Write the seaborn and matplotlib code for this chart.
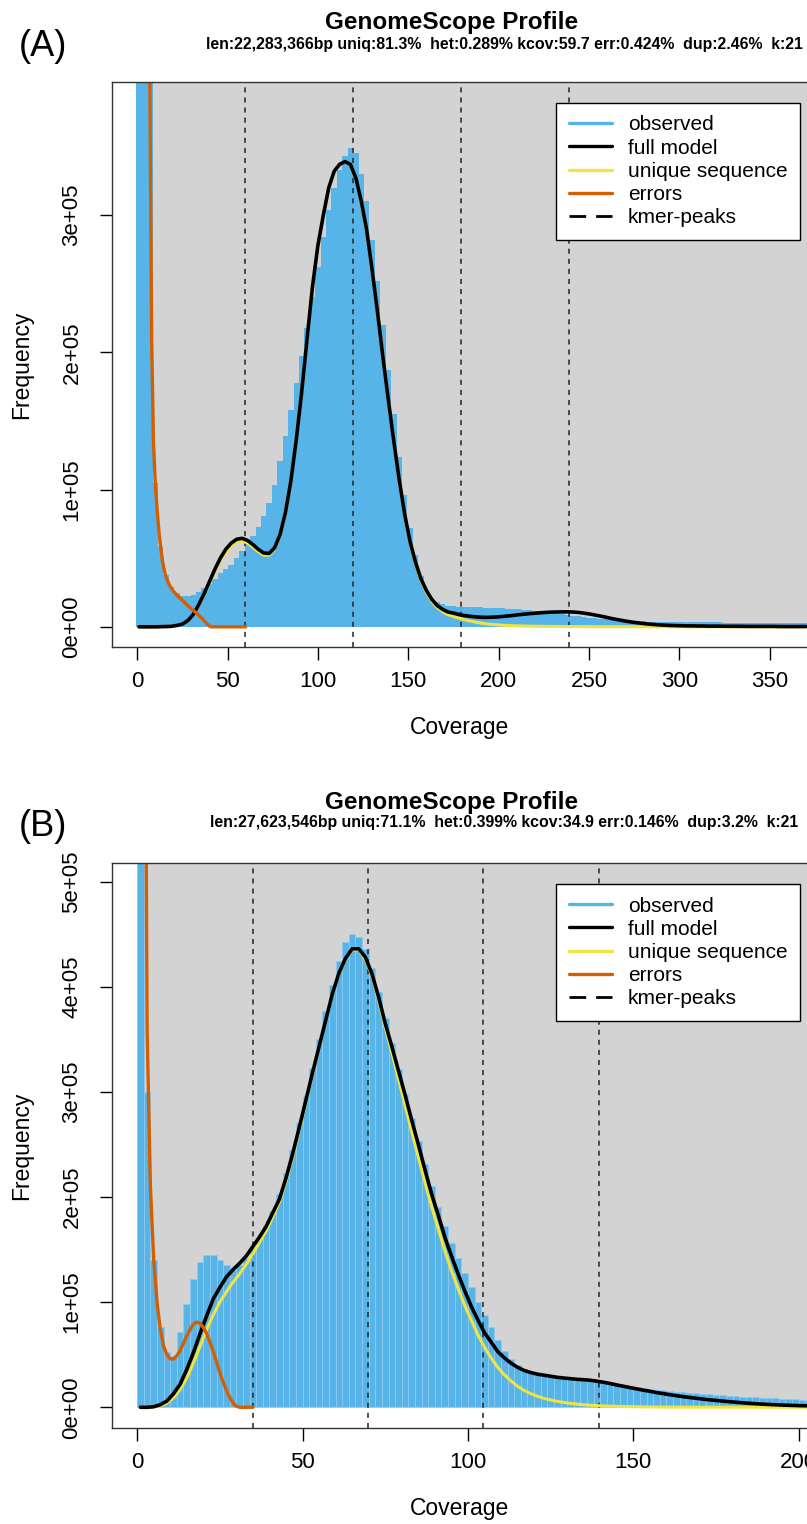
import matplotlib
matplotlib.use("Agg")
import matplotlib.pyplot as plt
import seaborn as sns
from matplotlib.lines import Line2D
from matplotlib.patches import Rectangle

# ---- data (frequencies in units of 1e5) ----
# panel A: k-mer coverage sampled every 3
cov_a = list(range(1, 371, 3))
obs_a = [50, 12, 4.3, 1.05, 0.58, 0.38, 0.29, 0.245, 0.225, 0.225,
         0.235, 0.255, 0.28, 0.31, 0.35, 0.39, 0.42, 0.45, 0.5, 0.55,
         0.6, 0.66, 0.73, 0.81, 0.9, 1.03, 1.21, 1.39, 1.58, 1.78,
         1.97, 2.18, 2.4, 2.62, 2.84, 3.04, 3.2, 3.33, 3.43, 3.49,
         3.45, 3.3, 3.1, 2.82, 2.52, 2.2, 1.87, 1.55, 1.24, 0.96,
         0.72, 0.52, 0.37, 0.27, 0.21, 0.18, 0.165, 0.155, 0.15, 0.148,
         0.147, 0.145, 0.143, 0.142, 0.14, 0.138, 0.136, 0.134, 0.132, 0.13,
         0.127, 0.124, 0.12, 0.116, 0.112, 0.107, 0.102, 0.097, 0.092, 0.087,
         0.082, 0.077, 0.072, 0.067, 0.063, 0.059, 0.055, 0.052, 0.049, 0.046,
         0.044, 0.042, 0.04, 0.039, 0.038, 0.037, 0.036, 0.036, 0.035, 0.035,
         0.034, 0.034, 0.033, 0.033, 0.033, 0.032, 0.032, 0.032, 0.031, 0.031,
         0.031, 0.03, 0.03, 0.03, 0.03, 0.029, 0.029, 0.029, 0.029, 0.028,
         0.028, 0.028, 0.028, 0.027]
full_a = [0, 0, 0, 0, 0.001, 0.002, 0.004, 0.01, 0.02, 0.045,
          0.09, 0.16, 0.24, 0.33, 0.42, 0.5, 0.565, 0.61, 0.638, 0.645,
          0.63, 0.6, 0.565, 0.538, 0.535, 0.575, 0.67, 0.83, 1.06, 1.36,
          1.71, 2.1, 2.48, 2.78, 3.0, 3.2, 3.32, 3.37, 3.39, 3.37,
          3.27, 3.1, 2.89, 2.6, 2.29, 1.96, 1.65, 1.35, 1.07, 0.82,
          0.62, 0.47, 0.35, 0.265, 0.2, 0.155, 0.127, 0.108, 0.1, 0.09,
          0.082, 0.077, 0.073, 0.07, 0.069, 0.07, 0.072, 0.075, 0.079, 0.083,
          0.088, 0.092, 0.096, 0.099, 0.102, 0.105, 0.107, 0.108, 0.109, 0.109,
          0.108, 0.105, 0.1, 0.094, 0.087, 0.079, 0.071, 0.062, 0.054, 0.047,
          0.04, 0.034, 0.029, 0.024, 0.02, 0.017, 0.014, 0.012, 0.01, 0.009,
          0.008, 0.007, 0.007, 0.006, 0.006, 0.005, 0.005, 0.005, 0.004, 0.004,
          0.004, 0.004, 0.003, 0.003, 0.003, 0.003, 0.003, 0.003, 0.002, 0.002,
          0.002, 0.002, 0.002, 0.002]
uniq_a = [0, 0, 0, 0, 0.001, 0.002, 0.004, 0.01, 0.02, 0.044,
          0.088, 0.155, 0.232, 0.318, 0.405, 0.483, 0.545, 0.59, 0.617, 0.625,
          0.61, 0.58, 0.547, 0.522, 0.522, 0.565, 0.662, 0.823, 1.055, 1.355,
          1.71, 2.1, 2.48, 2.78, 3.0, 3.2, 3.32, 3.37, 3.39, 3.37,
          3.27, 3.1, 2.89, 2.6, 2.29, 1.96, 1.65, 1.35, 1.065, 0.815,
          0.61, 0.46, 0.337, 0.25, 0.185, 0.14, 0.11, 0.088, 0.075, 0.063,
          0.052, 0.043, 0.035, 0.028, 0.022, 0.018, 0.015, 0.012, 0.01, 0.008,
          0.007, 0.006, 0.005, 0.004, 0.004, 0.003, 0.003, 0.003, 0.002, 0.002,
          0.002, 0.002, 0.002, 0.001, 0.001, 0.001, 0.001, 0.001, 0.001, 0.001,
          0.001, 0.001, 0.001, 0.001, 0.001, 0, 0, 0, 0, 0,
          0, 0, 0, 0, 0, 0, 0, 0, 0, 0,
          0, 0, 0, 0, 0, 0, 0, 0, 0, 0,
          0, 0, 0, 0]
err_cov_a = list(range(1, 42)) + [60]
err_a = [60, 30, 17, 10.5, 7, 5.2, 4.0, 2.1, 1.35, 1.05,
         0.86, 0.7, 0.58, 0.48, 0.41, 0.36, 0.33, 0.3, 0.28, 0.26,
         0.245, 0.23, 0.218, 0.205, 0.193, 0.18, 0.168, 0.155, 0.143, 0.13,
         0.12, 0.11, 0.098, 0.085, 0.072, 0.06, 0.045, 0.03, 0.017, 0.005,
         0, 0]
peaks_a = [59.7, 119.4, 179.1, 238.8]

# panel B: k-mer coverage sampled every 2
cov_b = list(range(1, 205, 2))
obs_b = [40, 3.0, 1.4, 0.76, 0.53, 0.49, 0.72, 0.98, 1.22, 1.38,
         1.45, 1.45, 1.4, 1.35, 1.31, 1.35, 1.42, 1.51, 1.61, 1.73,
         1.87, 2.03, 2.23, 2.45, 2.7, 2.96, 3.23, 3.5, 3.77, 4.02,
         4.24, 4.42, 4.5, 4.47, 4.36, 4.18, 3.95, 3.7, 3.46, 3.22,
         2.98, 2.75, 2.53, 2.31, 2.1, 1.9, 1.72, 1.56, 1.42, 1.28,
         1.14, 1.0, 0.88, 0.76, 0.64, 0.54, 0.46, 0.4, 0.36, 0.33,
         0.31, 0.3, 0.29, 0.28, 0.27, 0.265, 0.26, 0.255, 0.25, 0.24,
         0.235, 0.225, 0.215, 0.205, 0.2, 0.19, 0.182, 0.175, 0.168, 0.16,
         0.155, 0.15, 0.145, 0.14, 0.135, 0.13, 0.125, 0.12, 0.115, 0.11,
         0.106, 0.102, 0.098, 0.094, 0.09, 0.087, 0.084, 0.081, 0.078, 0.076,
         0.074, 0.072]
full_b = [0, 0, 0.005, 0.025, 0.06, 0.13, 0.22, 0.36, 0.52, 0.7,
          0.87, 1.03, 1.14, 1.24, 1.31, 1.37, 1.44, 1.53, 1.62, 1.72,
          1.85, 1.98, 2.18, 2.41, 2.66, 2.92, 3.18, 3.43, 3.68, 3.93,
          4.13, 4.27, 4.36, 4.36, 4.28, 4.12, 3.9, 3.65, 3.43, 3.2,
          2.97, 2.73, 2.5, 2.26, 2.03, 1.83, 1.62, 1.44, 1.27, 1.11,
          0.96, 0.83, 0.71, 0.62, 0.53, 0.47, 0.42, 0.38, 0.35, 0.33,
          0.315, 0.305, 0.295, 0.285, 0.278, 0.272, 0.266, 0.262, 0.257, 0.248,
          0.238, 0.226, 0.212, 0.2, 0.187, 0.175, 0.163, 0.152, 0.14, 0.13,
          0.12, 0.11, 0.101, 0.093, 0.086, 0.078, 0.071, 0.065, 0.059, 0.053,
          0.048, 0.043, 0.038, 0.034, 0.03, 0.027, 0.024, 0.021, 0.019, 0.017,
          0.015, 0.014]
uniq_b = [0, 0, 0.003, 0.015, 0.04, 0.09, 0.17, 0.28, 0.42, 0.58,
          0.74, 0.88, 1.0, 1.1, 1.19, 1.27, 1.36, 1.46, 1.57, 1.68,
          1.81, 1.95, 2.15, 2.38, 2.63, 2.9, 3.16, 3.42, 3.67, 3.92,
          4.12, 4.26, 4.35, 4.35, 4.26, 4.1, 3.87, 3.61, 3.37, 3.12,
          2.87, 2.62, 2.38, 2.14, 1.91, 1.7, 1.49, 1.3, 1.13, 0.97,
          0.83, 0.69, 0.57, 0.47, 0.38, 0.31, 0.25, 0.2, 0.16, 0.13,
          0.105, 0.085, 0.07, 0.056, 0.046, 0.037, 0.03, 0.024, 0.02, 0.016,
          0.013, 0.011, 0.009, 0.007, 0.006, 0.005, 0.004, 0.003, 0.003, 0.002,
          0.002, 0.002, 0.001, 0.001, 0.001, 0.001, 0.001, 0.001, 0.001, 0.001,
          0.001, 0.001, 0.001, 0.001, 0, 0, 0, 0, 0, 0,
          0, 0]
err_cov_b = list(range(1, 32)) + [35]
err_b = [30, 10, 3.6, 2.1, 1.4, 1.0, 0.74, 0.58, 0.5, 0.46,
         0.46, 0.49, 0.54, 0.61, 0.68, 0.74, 0.79, 0.81, 0.8, 0.76,
         0.7, 0.62, 0.53, 0.43, 0.33, 0.24, 0.16, 0.09, 0.04, 0.01,
         0, 0]
peaks_b = [34.9, 69.8, 104.7, 139.6]

sub_a = "len:22,283,366bp uniq:81.3%  het:0.289% kcov:59.7 err:0.424%  dup:2.46%  k:21"
sub_b = "len:27,623,546bp uniq:71.1%  het:0.399% kcov:34.9 err:0.146%  dup:3.2%  k:21"
yticks_a = [0, 1, 2, 3]
yticks_b = [0, 1, 2, 3, 4, 5]
ylabels_a = ["0e+00", "1e+05", "2e+05", "3e+05"]
ylabels_b = ["0e+00", "1e+05", "2e+05", "3e+05", "4e+05", "5e+05"]
xticks_a = [0, 50, 100, 150, 200, 250, 300, 350]
xticks_b = [0, 50, 100, 150, 200]
legend_labels = ["observed", "full model", "unique sequence", "errors", "kmer-peaks"]

BLUE = "#56B4E9"
YELLOW = "#F0E442"
ORANGE = "#D55E00"
BG = "#D3D3D3"

sns.set_theme(style="white")
plt.rcParams['font.family'] = ['Liberation Sans', 'DejaVu Sans']
plt.rcParams['text.color'] = 'black'
plt.rcParams['axes.labelcolor'] = 'black'

W, H = 807, 1524
fig = plt.figure(figsize=(W / 100, H / 100), dpi=100)


def draw_panel(top, bottom, cov, obs, full, uniq, err_cov, err, peaks, binw, binrange,
               xlim, ylim, xticks, yticks, ylabels, stripes):
    ax = fig.add_axes([111.7 / W, 1 - bottom / H, (W - 111.7) / W, (bottom - top) / H])
    ax.add_patch(Rectangle((0, 0), 1000, 100, color=BG, lw=0, zorder=0))
    if stripes:
        sns.histplot(x=cov, weights=obs, binwidth=binw, binrange=binrange, color=BLUE,
                     alpha=1, edgecolor="#8fcdf1", linewidth=0.5, ax=ax, zorder=1)
    else:
        sns.histplot(x=cov, weights=obs, binwidth=binw, binrange=binrange, color=BLUE,
                     alpha=1, linewidth=0, ax=ax, zorder=1)
    for p in peaks:
        ax.axvline(p, color="#222222", lw=1.1, ls=(0, (3.3, 3.3)), zorder=1.5)
    sns.lineplot(x=cov, y=uniq, color=YELLOW, linewidth=2.2, ax=ax, zorder=2)
    sns.lineplot(x=cov, y=full, color="black", linewidth=2.6, ax=ax, zorder=2.1)
    sns.lineplot(x=err_cov, y=err, color=ORANGE, linewidth=2.4, ax=ax, zorder=2.2)

    ax.set_xlim(xlim)
    ax.set_ylim(ylim)
    ax.set_xticks(xticks)
    ax.set_yticks(yticks)
    ax.set_yticklabels(ylabels, rotation=90, va="center")
    ax.tick_params(axis="both", direction="out", length=9, width=1, labelsize=16,
                   bottom=True, left=True, colors="black")
    ax.tick_params(axis="x", pad=8.5)
    ax.tick_params(axis="y", pad=12)
    for side in ["left", "bottom", "top"]:
        ax.spines[side].set_color("#333333")
        ax.spines[side].set_linewidth(1.0)
    ax.spines["right"].set_visible(False)

    ax.set_xlabel("Coverage", fontsize=16.5)
    ax.xaxis.set_label_coords(0.5, -80 / (bottom - top))
    ax.xaxis.label.set_va("center")
    ax.set_ylabel("Frequency", fontsize=16.5)
    ax.yaxis.set_label_coords((22 - 111.7) / (W - 111.7), 0.5)
    ax.yaxis.label.set_va("center")

    handles = [Line2D([], [], color=BLUE, lw=2.4),
               Line2D([], [], color="black", lw=2.4),
               Line2D([], [], color=YELLOW, lw=2.4),
               Line2D([], [], color=ORANGE, lw=2.4),
               Line2D([], [], color="black", lw=2, ls=(0, (6, 3.6)))]
    leg = ax.legend(handles, legend_labels, loc="upper left",
                    bbox_to_anchor=(556 / W, 1 - (top + 21) / H), bbox_transform=fig.transFigure,
                    frameon=True, fancybox=False, edgecolor="black", framealpha=1,
                    fontsize=15, handlelength=2.1, handletextpad=0.75, borderpad=0.6,
                    labelspacing=0.2, borderaxespad=0)
    leg.get_frame().set_linewidth(1.0)
    return ax


draw_panel(82, 647, cov_a, obs_a, full_a, uniq_a, err_cov_a, err_a, peaks_a, 3, (-0.5, 371.5),
           (-14.1, 370.6), (-0.147, 3.97), xticks_a, yticks_a, ylabels_a, False)
draw_panel(863, 1428, cov_b, obs_b, full_b, uniq_b, err_cov_b, err_b, peaks_b, 2, (0, 204),
           (-7.7, 202.5), (-0.197, 5.176), xticks_b, yticks_b, ylabels_b, True)

# titles
fig.text(452 / W, 1 - 22 / H, "GenomeScope Profile", ha="center", va="center",
         fontsize=17.5, fontweight="bold")
fig.text(504 / W, 1 - 44 / H, sub_a, ha="center", va="center", fontsize=11.4, fontweight="bold")
fig.text(43 / W, 1 - 47 / H, "(A)", ha="center", va="center", fontsize=26)

fig.text(452 / W, 1 - 802 / H, "GenomeScope Profile", ha="center", va="center",
         fontsize=17.5, fontweight="bold")
fig.text(504 / W, 1 - 822 / H, sub_b, ha="center", va="center", fontsize=11.4, fontweight="bold")
fig.text(43 / W, 1 - 826 / H, "(B)", ha="center", va="center", fontsize=26)

fig.savefig("out.png", dpi=100)
